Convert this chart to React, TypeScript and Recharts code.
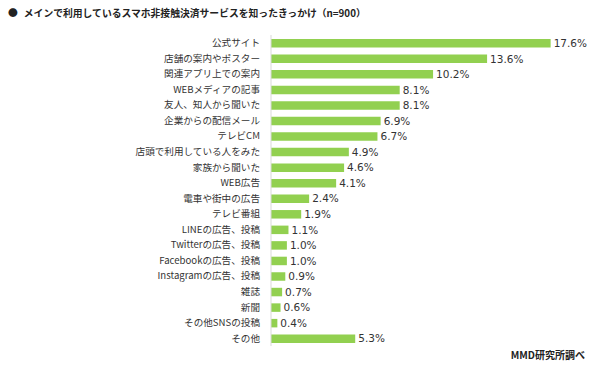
import React from "react";
import { BarChart, Bar, XAxis, YAxis, LabelList } from "recharts";

const categories = [
  "公式サイト",
  "店舗の案内やポスター",
  "関連アプリ上での案内",
  "WEBメディアの記事",
  "友人、知人から聞いた",
  "企業からの配信メール",
  "テレビCM",
  "店頭で利用している人をみた",
  "家族から聞いた",
  "WEB広告",
  "電車や街中の広告",
  "テレビ番組",
  "LINEの広告、投稿",
  "Twitterの広告、投稿",
  "Facebookの広告、投稿",
  "Instagramの広告、投稿",
  "雑誌",
  "新聞",
  "その他SNSの投稿",
  "その他",
];

const values = [17.6, 13.6, 10.2, 8.1, 8.1, 6.9, 6.7, 4.9, 4.6, 4.1, 2.4, 1.9, 1.1, 1.0, 1.0, 0.9, 0.7, 0.6, 0.4, 5.3];

const title = "メインで利用しているスマホ非接触決済サービスを知ったきっかけ（n=900）";
const source = "MMD研究所調べ";

const data = categories.map((name, i) => ({ name, value: values[i] }));

const labelFont = "'Noto Sans CJK JP', sans-serif";

export default function App() {
  return (
    <div style={{ position: "absolute", left: 0, top: 0, width: 590, height: 367, background: "#fff", overflow: "hidden" }}>
      <div
        style={{
          position: "absolute",
          left: 8,
          top: 6,
          fontFamily: labelFont,
          fontWeight: 700,
          fontSize: 9.8,
          color: "#222",
          whiteSpace: "nowrap",
        }}
      >
        <span style={{ marginRight: 6 }}>●</span>
        {title}
      </div>
      <BarChart
        width={590}
        height={367}
        data={data}
        layout="vertical"
        margin={{ top: 35, right: 33, bottom: 21, left: 0 }}
        barSize={8.5}
      >
        <XAxis type="number" domain={[0, 18]} hide />
        <YAxis
          type="category"
          dataKey="name"
          width={271}
          tickLine={false}
          tickSize={0}
          tickMargin={11}
          axisLine={{ stroke: "#d9d9d9" }}
          interval={0}
          tick={{ fill: "#333", fontSize: 9.6, fontFamily: labelFont }}
        />
        <Bar dataKey="value" fill="#92D050" isAnimationActive={false}>
          <LabelList
            dataKey="value"
            position="right"
            offset={3}
            formatter={(v: number) => `${v.toFixed(1)}%`}
            style={{ fill: "#333", fontSize: 10.5, fontFamily: "'DejaVu Sans', sans-serif" }}
          />
        </Bar>
      </BarChart>
      <div
        style={{
          position: "absolute",
          right: 5,
          top: 347,
          fontFamily: labelFont,
          fontWeight: 700,
          fontSize: 10,
          color: "#222",
          whiteSpace: "nowrap",
        }}
      >
        {source}
      </div>
    </div>
  );
}
